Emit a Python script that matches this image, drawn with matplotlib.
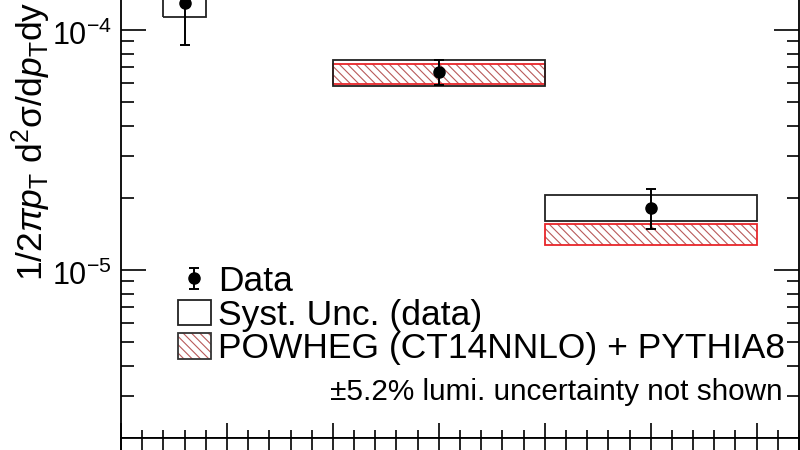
import matplotlib
matplotlib.use("Agg")
import matplotlib.pyplot as plt
import numpy as np
from matplotlib.patches import Patch
from matplotlib.container import ErrorbarContainer
from matplotlib.legend_handler import HandlerErrorbar
from matplotlib.ticker import LogLocator, MultipleLocator, LogFormatterMathtext, NullFormatter
import matplotlib.transforms as mtransforms

plt.rcParams['font.family'] = ['Liberation Sans', 'DejaVu Sans']
plt.rcParams['mathtext.fontset'] = 'custom'
plt.rcParams['mathtext.rm'] = 'Liberation Sans'
plt.rcParams['mathtext.it'] = 'Liberation Sans:italic'
plt.rcParams['mathtext.bf'] = 'Liberation Sans:bold'
plt.rcParams['hatch.linewidth'] = 0.8

# ---- data ----
bin_lo = [2.0, 10.0, 20.0]
bin_hi = [4.0, 20.0, 30.0]
x_pts = [3.0, 15.0, 25.0]
y_pts = [1.296e-4, 6.70e-5, 1.82e-5]
stat_lo = [8.66e-5, 5.94e-5, 1.48e-5]
stat_hi = [1.75e-4, 7.50e-5, 2.17e-5]
syst_lo = [1.136e-4, 5.84e-5, 1.60e-5]
syst_hi = [1.55e-4, 7.55e-5, 2.05e-5]
model_lo = [1.62e-4, 5.96e-5, 1.28e-5]
model_hi = [1.95e-4, 7.26e-5, 1.56e-5]

W, H = 800, 450
fig = plt.figure(figsize=(8, 4.5), dpi=100)

ymin, ymax = 2e-6, 10 ** -3.5
dec_px = 240.0
ax_h_px = (np.log10(ymax) - np.log10(ymin)) * dec_px
ax_left, ax_right, ax_bot = 121, 799, 438
ax = fig.add_axes([ax_left / W, 1 - ax_bot / H, (ax_right - ax_left) / W, ax_h_px / H])
ax.set_yscale('log')
ax.set_xlim(0, 32)
ax.set_ylim(ymin, ymax)

widths = [h - l for l, h in zip(bin_lo, bin_hi)]
m_h = [h - l for l, h in zip(model_lo, model_hi)]
s_h = [h - l for l, h in zip(syst_lo, syst_hi)]

ax.bar(bin_lo, m_h, width=widths, bottom=model_lo, align='edge',
       facecolor='white', edgecolor='#b85a5a', linewidth=0, hatch='\\\\\\\\', zorder=2)
ax.bar(bin_lo, m_h, width=widths, bottom=model_lo, align='edge',
       fill=False, edgecolor='#e8252a', linewidth=1.3, zorder=3)
ax.bar(bin_lo, s_h, width=widths, bottom=syst_lo, align='edge',
       fill=False, edgecolor='#222222', linewidth=1.3, zorder=4)
yerr = [np.array(y_pts) - np.array(stat_lo), np.array(stat_hi) - np.array(y_pts)]
eb = ax.errorbar(x_pts, y_pts, yerr=yerr, fmt='o', color='black', ms=8,
                 elinewidth=1.4, capsize=3.5, capthick=1.4, zorder=5, label='Data')

# ticks
ax.xaxis.set_major_locator(MultipleLocator(5))
ax.xaxis.set_minor_locator(MultipleLocator(1))
ax.yaxis.set_major_locator(LogLocator(base=10, numticks=20))
ax.yaxis.set_minor_locator(LogLocator(base=10, subs=np.arange(2, 10), numticks=20))
ax.yaxis.set_major_formatter(LogFormatterMathtext())
ax.yaxis.set_minor_formatter(NullFormatter())
ax.tick_params(axis='y', which='major', direction='in', length=18, width=1.2,
               right=True, labelsize=22, pad=6.5)
ax.tick_params(axis='y', which='minor', direction='in', length=9, width=1.2, right=True)
ax.tick_params(axis='x', which='major', direction='in', length=11, width=1.2, labelbottom=False)
ax.tick_params(axis='x', which='minor', direction='in', length=5.5, width=1.2)
for sp in ax.spines.values():
    sp.set_linewidth(1.3)
shift = mtransforms.ScaledTranslation(0, -3 / 100, fig.dpi_scale_trans)
for lab in ax.get_yticklabels():
    lab.set_transform(lab.get_transform() + shift)

# lower pad (ratio panel), only top visible
ax2 = fig.add_axes([ax_left / W, 1 - ax_bot / H - 0.4, (ax_right - ax_left) / W, 0.4])
ax2.set_xlim(0, 32)
ax2.xaxis.set_major_locator(MultipleLocator(5))
ax2.xaxis.set_minor_locator(MultipleLocator(1))
ax2.tick_params(axis='x', which='both', direction='in', top=True, bottom=False,
                labelbottom=False, width=1.2)
ax2.tick_params(axis='x', which='major', length=16)
ax2.tick_params(axis='x', which='minor', length=12)
ax2.set_yticks([])
for sp in ax2.spines.values():
    sp.set_linewidth(1.3)

# y label
fig.text(31 / W, 1 - 141.5 / H, r"1/2$\pi p_{\mathrm{T}}$ d$^{2}$σ/d$p_{\mathrm{T}}$dy",
         rotation=90, ha='center', va='center', fontsize=25.5)

# legend
syst_proxy = Patch(facecolor='white', edgecolor='#222222', linewidth=1.3)
hatch_proxy = Patch(facecolor='white', edgecolor='#b85a5a', linewidth=0, hatch='\\\\\\\\')
box_proxy = Patch(fill=False, edgecolor='#333333', linewidth=1.3)
leg = ax.legend([eb, syst_proxy, (hatch_proxy, box_proxy)],
                ['Data', 'Syst. Unc. (data)', 'POWHEG (CT14NNLO) + PYTHIA8'],
                loc='upper left', bbox_to_anchor=(178 / W, 1 - 265 / H),
                bbox_transform=fig.transFigure, frameon=False, fontsize=25.5,
                borderpad=0, borderaxespad=0, handlelength=0.92, handleheight=0.72,
                handletextpad=0.2, labelspacing=0.02,
                handler_map={ErrorbarContainer: HandlerErrorbar(yerr_size=0.3)})

fig.text(783 / W, 1 - 392 / H, "±5.2% lumi. uncertainty not shown",
         ha='right', va='center', fontsize=21.4)

fig.savefig('out.png', dpi=100)
